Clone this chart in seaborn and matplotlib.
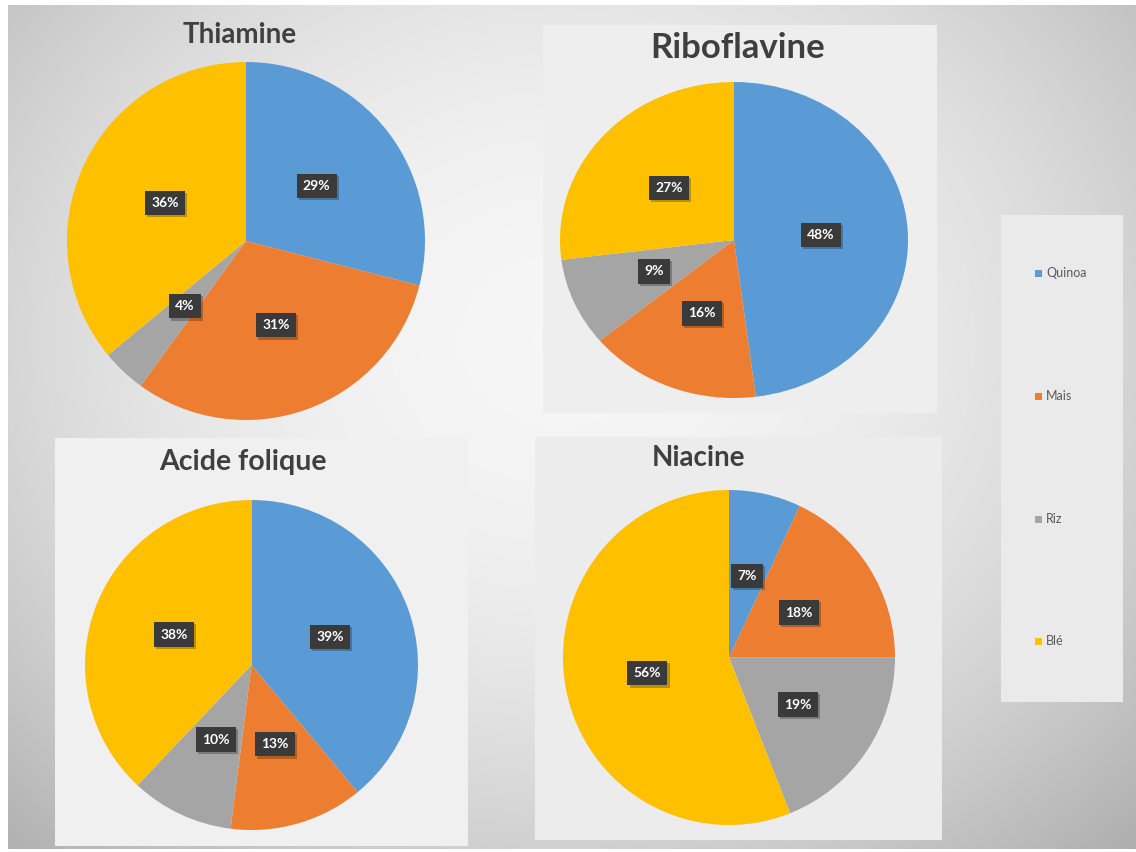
import numpy as np
import matplotlib
matplotlib.use("Agg")
import matplotlib.pyplot as plt
import matplotlib.transforms as mtransforms
from matplotlib.patches import Rectangle
import seaborn as sns

# Share of each cereal (%) for every vitamin
cereals = ["Quinoa", "Mais", "Riz", "Blé"]
thiamine = [29, 31, 4, 36]
riboflavine = [48, 16, 9, 27]
acide_folique = [39, 13, 10, 38]
niacine = [7, 18, 19, 56]
titles = ["Thiamine", "Riboflavine", "Acide folique", "Niacine"]

sns.set_theme(style="white")
plt.rcParams["font.family"] = ["Lato", "DejaVu Sans"]
colors = sns.color_palette(["#5B9BD5", "#ED7D31", "#A5A5A5", "#FFC000"])

W, H = 1136, 852
fig = plt.figure(figsize=(W / 100, H / 100), dpi=100)
fig.patch.set_facecolor("white")

# full-figure layer in pixel units for background, panels, titles and legend
base = fig.add_axes([0, 0, 1, 1], zorder=0)
base.set_xlim(0, W)
base.set_ylim(H, 0)
base.axis("off")

# soft radial grey gradient
x0, x1, y0, y1 = 8, W, 5, 849
yy, xx = np.mgrid[y0:y1, x0:x1]
r2 = ((xx - 560) / 660.0) ** 2 + ((yy - 340) / 560.0) ** 2
g = np.clip(0.965 - 0.18 * r2, 0, 1)
base.imshow(np.dstack([g, g, g]), extent=(x0, x1, y1, y0), aspect="auto",
            interpolation="bilinear", zorder=0)

# light panel boxes
panels = [
    (543, 25, 937, 413, "#eeeeee"),
    (55, 438, 468, 846, "#f0f0f0"),
    (535, 437, 942, 840, "#ececec"),
    (1001, 215, 1123, 702, "#eaeaea"),
]
for l, t, r, b, c in panels:
    base.add_patch(Rectangle((l, t), r - l, b - t, facecolor=c, edgecolor="none", zorder=1))

# pie placement (left, top, right, bottom) in pixels
pie_boxes = [
    (67, 62, 425, 420),
    (560, 82, 908, 398),
    (85, 500, 418, 830),
    (563, 490, 895, 825),
]
title_pos = [(240, 35, 20), (738, 48, 25), (243, 462, 20.5), (699, 458, 20)]
series = [thiamine, riboflavine, acide_folique, niacine]

for (l, t, r, b), values, title, (tx, ty, ts) in zip(pie_boxes, series, titles, title_pos):
    ax = fig.add_axes([l / W, 1 - b / H, (r - l) / W, (b - t) / H], zorder=2)
    wedges, texts, autotexts = ax.pie(
        values, colors=colors, startangle=90, counterclock=False,
        autopct=lambda p: f"{p:.0f}%", pctdistance=0.5,
        wedgeprops=dict(linewidth=0),
    )
    ax.set_aspect("auto")
    ax.set_xlim(-1, 1)
    ax.set_ylim(-1, 1)
    for at in autotexts:
        # drop shadow behind the label box
        shadow_tr = mtransforms.offset_copy(ax.transData, fig=fig, x=1.5, y=-1.5, units="points")
        ax.text(*at.get_position(), at.get_text(), transform=shadow_tr,
                ha="center", va="center", fontsize=10, fontweight="bold", color=(0, 0, 0, 0),
                bbox=dict(boxstyle="square,pad=0.45", fc=(0, 0, 0, 0.25), ec="none"), zorder=3)
        at.set(color="white", fontsize=10, fontweight="bold", zorder=4,
               bbox=dict(boxstyle="square,pad=0.45", fc="#3a3a3a", ec="none"))
    base.text(tx, ty, title, ha="center", va="center", fontsize=ts,
              fontweight="bold", color="#3f3f3f", zorder=3)

# legend
legend_y = [273, 396, 519, 641]
for name, col, y in zip(cereals, colors, legend_y):
    base.add_patch(Rectangle((1035, y - 3.5), 7, 7, facecolor=col, edgecolor="none", zorder=3))
    base.text(1046, y, name, ha="left", va="center", fontsize=9, color="#595959", zorder=3)

fig.savefig("out.png", dpi=100)
